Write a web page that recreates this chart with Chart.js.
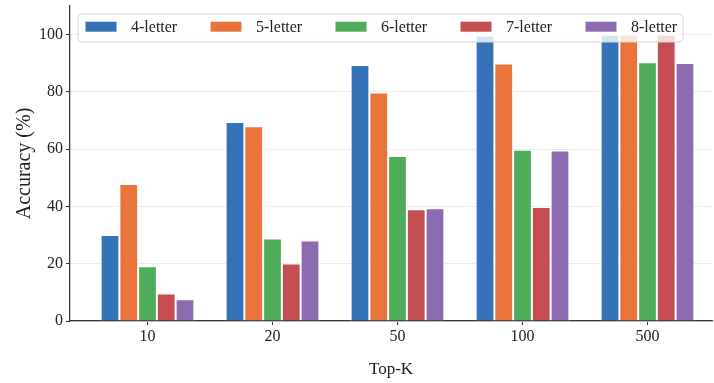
<!DOCTYPE html>
<html>
<head>
<meta charset="utf-8">
<script src="https://cdn.jsdelivr.net/npm/chart.js@4.4.0/dist/chart.umd.min.js"></script>
<style>
  html, body { margin: 0; padding: 0; background: #fff; }
  #wrap { width: 714px; height: 383px; }
</style>
</head>
<body>
<div id="wrap"><canvas id="accChart" width="714" height="383"></canvas></div>
<script>
// Top-K categories and accuracy per word length
const topK = ["10", "20", "50", "100", "500"];
const seriesNames = ["4-letter", "5-letter", "6-letter", "7-letter", "8-letter"];
const acc4 = [30.0, 69.5, 89.4, 99.7, 100];
const acc5 = [47.8, 68.0, 79.8, 89.9, 100];
const acc6 = [19.1, 28.8, 57.6, 59.8, 90.4];
const acc7 = [9.6, 20.1, 39.0, 39.8, 100];
const acc8 = [7.6, 28.1, 39.4, 59.5, 90.1];
const yTicks = [0, 20, 40, 60, 80, 100];

const colors = ["#3573b9", "#e8743c", "#4fac5b", "#c44e52", "#8c6bb1"];
const allSeries = [acc4, acc5, acc6, acc7, acc8];

const serif = "'Liberation Serif', 'Times New Roman', serif";
const axisColor = "#333333";

// legend drawn inside the plot area, over the bars
const insideLegend = {
  id: "insideLegend",
  afterDatasetsDraw(chart) {
    const ctx = chart.ctx;
    const ca = chart.chartArea;
    const x0 = ca.left + 8, y0 = 14, w = 605, h = 28, step = 125;
    ctx.save();
    ctx.beginPath();
    ctx.roundRect(x0, y0, w, h, 4);
    ctx.fillStyle = "rgba(255,255,255,0.8)";
    ctx.fill();
    ctx.lineWidth = 1;
    ctx.strokeStyle = "#d6d6d6";
    ctx.stroke();
    ctx.font = "16px " + serif;
    ctx.textBaseline = "middle";
    chart.data.datasets.forEach((ds, i) => {
      const sx = x0 + 7.5 + i * step;
      ctx.fillStyle = ds.backgroundColor;
      ctx.fillRect(sx, y0 + 7.7, 31, 10);
      ctx.fillStyle = "#222";
      ctx.fillText(ds.label, sx + 45.5, y0 + 13.5);
    });
    ctx.restore();
  }
};

new Chart(document.getElementById("accChart"), {
  type: "bar",
  data: {
    datasets: seriesNames.map((name, i) => ({
      label: name,
      data: allSeries[i].map((v, j) => ({ x: j, y: v })),
      backgroundColor: colors[i],
      borderColor: "#ffffff",
      borderWidth: 1,
      categoryPercentage: 0.75,
      barPercentage: 1.0
    }))
  },
  options: {
    responsive: false,
    animation: false,
    layout: { padding: { top: 6, right: 2, left: 0, bottom: 0 } },
    plugins: {
      legend: { display: false },
      tooltip: { enabled: false }
    },
    scales: {
      x: {
        type: "linear",
        offset: false,
        min: -0.62,
        max: 4.516,
        afterBuildTicks: s => { s.ticks = topK.map((_, i) => ({ value: i })); },
        afterFit: s => { s.height = 62; s.paddingLeft = 0; s.paddingRight = 0; },
        ticks: {
          callback: v => topK[v],
          font: { family: serif, size: 16 },
          color: "#222",
          padding: 2,
          maxRotation: 0,
          autoSkip: false
        },
        grid: { drawOnChartArea: false, drawTicks: true, tickLength: 4, tickColor: axisColor, offset: false },
        border: { color: axisColor, width: 1.25 },
        title: {
          display: true,
          text: "Top-K",
          font: { family: serif, size: 17 },
          color: "#222",
          padding: { bottom: 3 }
        }
      },
      y: {
        min: 0,
        max: 110,
        afterBuildTicks: s => { s.ticks = yTicks.map(v => ({ value: v })); },
        afterFit: s => { s.width = 70; s.paddingTop = 0; s.paddingBottom = 0; },
        ticks: {
          font: { family: serif, size: 16 },
          color: "#222",
          padding: 3
        },
        grid: { color: "#ebebeb", lineWidth: 1, tickLength: 4, tickColor: axisColor },
        border: { color: axisColor, width: 1.25 },
        title: {
          display: true,
          text: "Accuracy (%)",
          font: { family: serif, size: 20 },
          color: "#222",
          padding: { top: 13 }
        }
      }
    }
  },
  plugins: [insideLegend]
});
</script>
</body>
</html>
